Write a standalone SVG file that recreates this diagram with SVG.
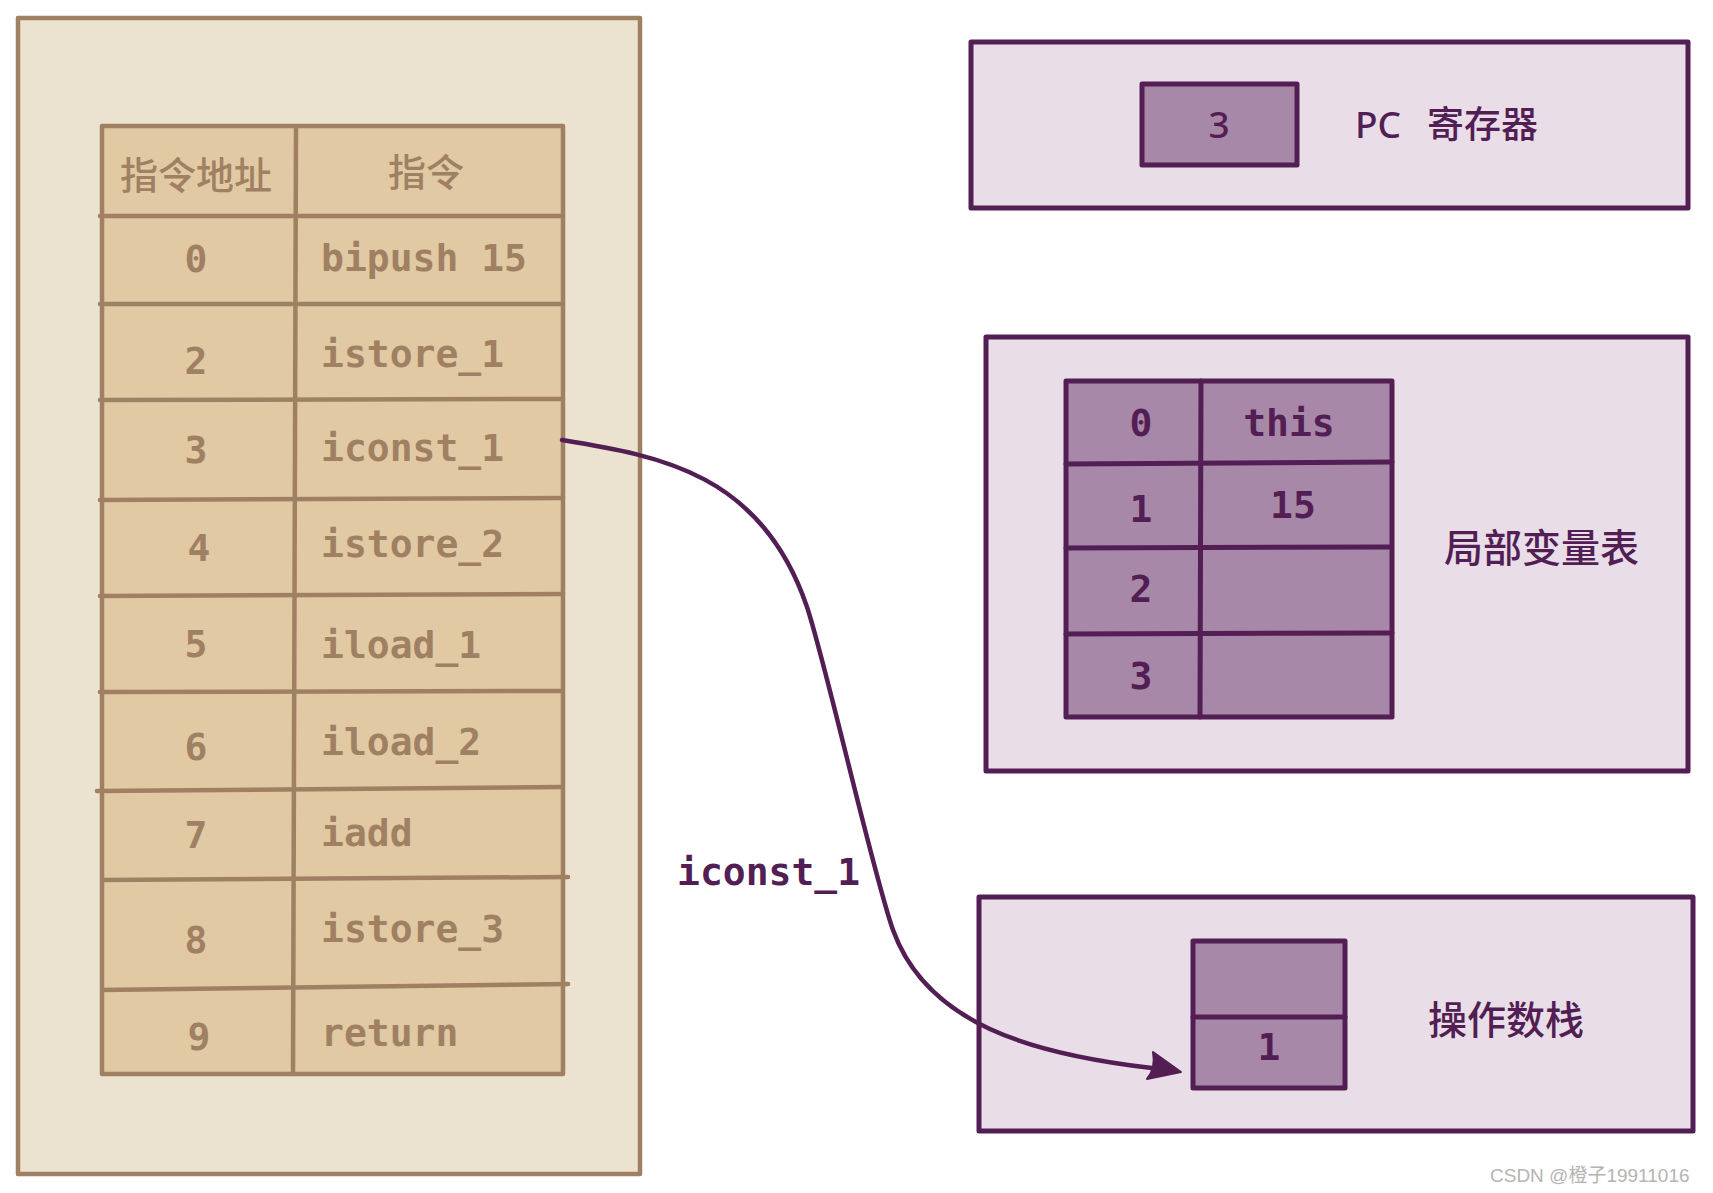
<svg xmlns="http://www.w3.org/2000/svg" width="1713" height="1193" viewBox="0 0 1713 1193">
  <style>
    .brown { stroke: #A08062; stroke-width: 4.5; stroke-linecap: round; stroke-linejoin: round; }
    .purple { stroke: #521E54; stroke-width: 5; stroke-linecap: round; stroke-linejoin: round; }
    .mono-b { font-family: "DejaVu Sans Mono", "Liberation Mono", monospace; font-size: 38px; font-weight: bold; fill: #A08062; }
    .mono-p { font-family: "DejaVu Sans Mono", "Liberation Mono", monospace; font-size: 38px; font-weight: bold; fill: #521E54; }
    .cjk-b { font-family: "Noto Sans CJK SC", "Noto Sans", sans-serif; font-size: 38px; font-weight: 500; fill: #A08062; }
    .cjk-p { font-family: "Noto Sans", "Noto Sans CJK SC", sans-serif; font-size: 38px; font-weight: 500; fill: #521E54; }
    .mid { text-anchor: middle; }
  </style>
  <rect width="1713" height="1193" fill="#ffffff"/>

  <g id="method-area">
    <rect x="18" y="18" width="622" height="1156" fill="#EBE3CF" class="brown"/>
  </g>

  <g id="instruction-table">
    <rect x="102" y="126" width="461" height="948" fill="#E1C9A4" class="brown"/>
    <line x1="296" y1="126" x2="293" y2="1074" class="brown"/>
    <line x1="100" y1="216" x2="563" y2="216" class="brown"/>
    <line x1="100" y1="304" x2="563" y2="304" class="brown"/>
    <line x1="100" y1="400" x2="563" y2="399" class="brown"/>
    <line x1="100" y1="500" x2="563" y2="498" class="brown"/>
    <line x1="100" y1="596" x2="563" y2="594" class="brown"/>
    <line x1="100" y1="692" x2="563" y2="691" class="brown"/>
    <line x1="97" y1="791" x2="561" y2="787" class="brown"/>
    <line x1="102" y1="880" x2="568" y2="877" class="brown"/>
    <line x1="102" y1="990" x2="568" y2="984" class="brown"/>

    <text x="196" y="189" class="cjk-b mid">指令地址</text>
    <text x="426" y="186" class="cjk-b mid">指令</text>

    <text x="196" y="272" class="mono-b mid">0</text>
    <text x="321" y="271" class="mono-b">bipush 15</text>
    <text x="196" y="374" class="mono-b mid">2</text>
    <text x="321" y="367" class="mono-b">istore_1</text>
    <text x="196" y="463" class="mono-b mid">3</text>
    <text x="321" y="461" class="mono-b">iconst_1</text>
    <text x="199" y="561" class="mono-b mid">4</text>
    <text x="321" y="557" class="mono-b">istore_2</text>
    <text x="196" y="657" class="mono-b mid">5</text>
    <text x="321" y="658" class="mono-b">iload_1</text>
    <text x="196" y="760" class="mono-b mid">6</text>
    <text x="321" y="755" class="mono-b">iload_2</text>
    <text x="196" y="848" class="mono-b mid">7</text>
    <text x="321" y="846" class="mono-b">iadd</text>
    <text x="196" y="953" class="mono-b mid">8</text>
    <text x="321" y="942" class="mono-b">istore_3</text>
    <text x="199" y="1050" class="mono-b mid">9</text>
    <text x="321" y="1046" class="mono-b">return</text>
  </g>

  <g id="pc-register">
    <rect x="971" y="42" width="717" height="166" fill="#E9DEE8" class="purple"/>
    <rect x="1142" y="84" width="155" height="81" fill="#A888A8" class="purple"/>
    <text x="1219" y="138" class="cjk-p mid" style="font-size:37px">3</text>
    <text x="1355" y="138" class="cjk-p" style="font-size:37px">PC<tspan x="1427" style="font-family:'Noto Sans CJK SC', sans-serif">寄存器</tspan></text>
  </g>

  <g id="local-variables">
    <rect x="986" y="337" width="702" height="434" fill="#E9DEE8" class="purple"/>
    <rect x="1066" y="381" width="326" height="336" fill="#A888A8" class="purple"/>
    <line x1="1201" y1="381" x2="1200" y2="717" class="purple"/>
    <line x1="1066" y1="464" x2="1392" y2="462" class="purple"/>
    <line x1="1066" y1="548" x2="1390" y2="547" class="purple"/>
    <line x1="1066" y1="634" x2="1392" y2="633" class="purple"/>
    <text x="1141" y="436" class="mono-p mid">0</text>
    <text x="1289" y="436" class="mono-p mid">this</text>
    <text x="1141" y="522" class="mono-p mid">1</text>
    <text x="1293" y="518" class="mono-p mid">15</text>
    <text x="1141" y="602" class="mono-p mid">2</text>
    <text x="1141" y="689" class="mono-p mid">3</text>
    <text x="1444" y="562" class="cjk-p" style="font-family:'Noto Sans CJK SC', sans-serif;font-size:39px">局部变量表</text>
  </g>

  <g id="operand-stack">
    <rect x="979" y="897" width="714" height="234" fill="#E9DEE8" class="purple"/>
    <rect x="1193" y="941" width="152" height="147" fill="#A888A8" class="purple"/>
    <line x1="1193" y1="1017" x2="1345" y2="1017" class="purple"/>
    <text x="1269" y="1060" class="mono-p mid">1</text>
    <text x="1428" y="1034" class="cjk-p" style="font-family:'Noto Sans CJK SC', sans-serif;font-size:39px">操作数栈</text>
  </g>

  <g id="connectors">
    <path d="M 562 440 C 661 456, 762 474, 807 607 C 826 664, 873 874, 893 930 C 927 1024, 1031 1054, 1152 1068" fill="none" stroke="#521E54" stroke-width="4.5" stroke-linecap="round"/>
    <path d="M 1153 1052 L 1181 1072 L 1147 1079 Q 1156 1068 1153 1052 Z" fill="#521E54" stroke="#521E54" stroke-width="2" stroke-linejoin="round"/>
    <text x="677" y="885" class="mono-p">iconst_1</text>
  </g>

  <text x="1490" y="1182" style="font-family:'Liberation Sans','Noto Sans CJK SC',sans-serif;font-size:19px;fill:#B4B4B4">CSDN @橙子19911016</text>
</svg>
